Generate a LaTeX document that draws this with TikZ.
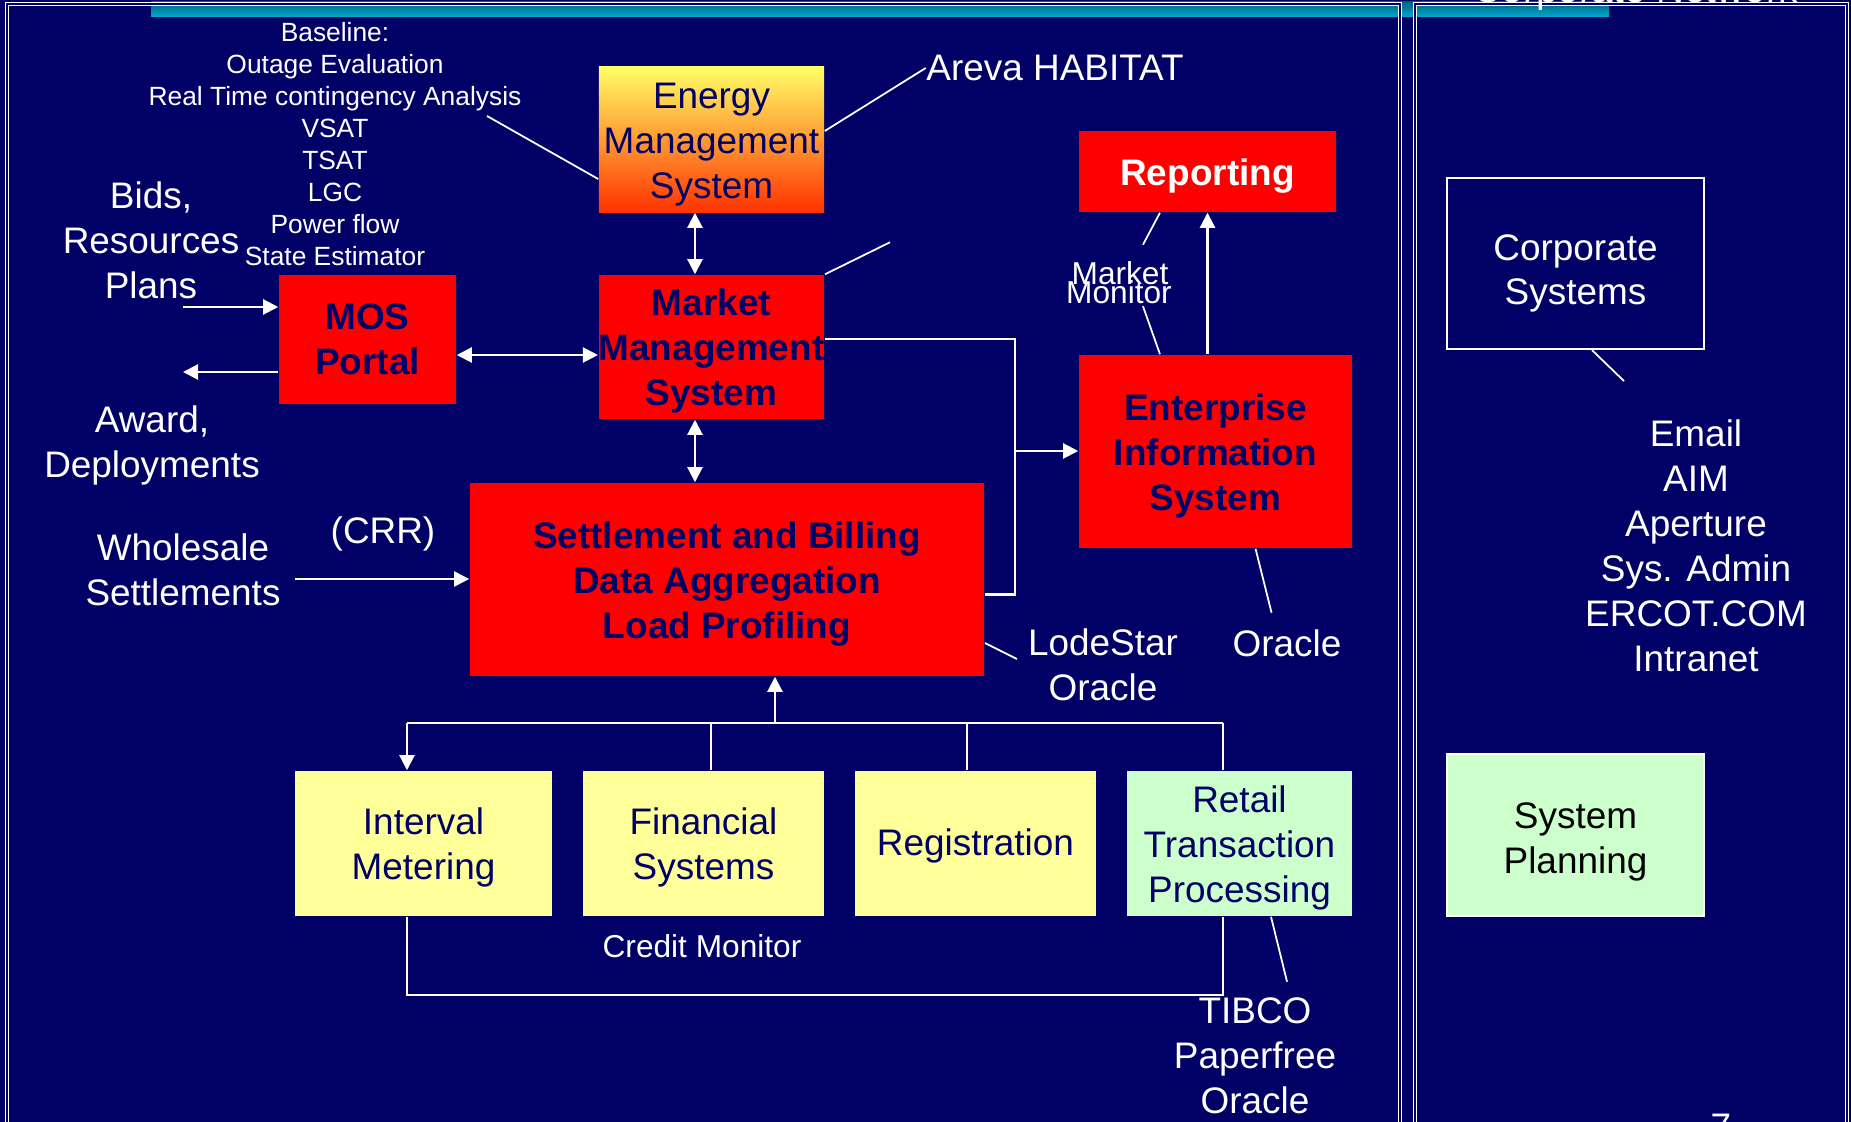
\documentclass[tikz,border=0pt]{standalone}
\usepackage{fontspec}
\setmainfont{Liberation Sans}
\usetikzlibrary{arrows.meta}
\definecolor{bgnavy}{RGB}{0,0,102}
\definecolor{boxred}{RGB}{255,0,0}
\definecolor{paleyel}{RGB}{255,255,153}
\definecolor{palegrn}{RGB}{204,255,204}
\definecolor{emstop}{RGB}{255,255,102}
\definecolor{emsbot}{RGB}{255,51,0}
\definecolor{bartop}{RGB}{0,100,120}
\definecolor{barbot}{RGB}{0,170,210}
\newcommand{\bigtxt}{\fontsize{10.5}{12.8}\selectfont}
\newcommand{\smalltxt}{\fontsize{7.5}{9.1}\selectfont}
\newcommand{\midtxt}{\fontsize{9}{11}\selectfont}
\newcommand{\boxstrut}{\rule{0pt}{10pt}}
\begin{document}
\begin{tikzpicture}[x=0.01cm,y=-0.01cm,>={Triangle[length=4.3pt,width=4.3pt]},
  every node/.style={inner sep=0pt,align=center,font=\bigtxt},
  redbox/.style={fill=boxred,text=bgnavy,font=\bigtxt\bfseries},
  yelbox/.style={fill=paleyel,text=bgnavy},
  lbl/.style={text=white},
  wire/.style={draw=white,line width=0.6pt},
  pointer/.style={draw=white,line width=0.5pt},
  frame/.style={draw=white,line width=0.35pt,double=bgnavy,double distance=0.5pt}]
\fill[bgnavy] (0,0) rectangle (1851,1122);
\useasboundingbox (0,0) rectangle (1851,1122);
\shade[top color=bartop,bottom color=barbot] (151,2) rectangle (1609,17);
\draw[frame] (7,4) rectangle (1400,1140);
\draw[frame] (1415,4) rectangle (1847,1140);
\node[lbl,anchor=base,font=\fontsize{11}{13}\selectfont] (corpnet) at (1636,3) {Corporate Network};
\node[lbl,anchor=base] (pagenum) at (1721,1139) {7};

% systems
\node[top color=emstop,bottom color=emsbot,text=bgnavy,minimum width=2.25cm,minimum height=1.45cm] (ems) at (711.5,139.5) {\boxstrut Energy\\Management\\System};
\node[redbox,minimum width=2.25cm,minimum height=1.44cm] (mms) at (711.5,347) {\boxstrut Market\\Management\\System};
\node[redbox,minimum width=1.77cm,minimum height=1.29cm] (mos) at (367.5,339.5) {MOS\\Portal};
\node[redbox,minimum width=5.14cm,minimum height=1.93cm] (sab) at (727,579.5) {\boxstrut Settlement and Billing\\Data Aggregation\\Load Profiling};
\node[redbox,text=white,minimum width=2.57cm,minimum height=0.81cm] (rep) at (1207.5,171.5) {\boxstrut Reporting};
\node[redbox,minimum width=2.73cm,minimum height=1.93cm] (eis) at (1215.5,451.5) {\boxstrut Enterprise\\Information\\System};
\node[yelbox,minimum width=2.57cm,minimum height=1.45cm] (im) at (423.5,843.5) {\boxstrut Interval\\Metering};
\node[yelbox,minimum width=2.41cm,minimum height=1.45cm] (fs) at (703.5,843.5) {\boxstrut Financial\\Systems};
\node[yelbox,minimum width=2.41cm,minimum height=1.45cm] (reg) at (975.5,843.5) {\rule{0pt}{9pt}Registration};
\node[yelbox,fill=palegrn,minimum width=2.25cm,minimum height=1.45cm] (rtp) at (1239.5,843.5) {\boxstrut Retail\\Transaction\\Processing};
\node[draw=white,line width=0.6pt,text=white,minimum width=2.57cm,minimum height=1.71cm,font=\fontsize{10.5}{12.6}\selectfont] (corp) at (1575.5,263.5) {\rule{0pt}{13pt}Corporate\\Systems};
\node[draw=white,line width=0.4pt,fill=palegrn,text=black,minimum width=2.57cm,minimum height=1.62cm] (plan) at (1575.5,835) {\rule{0pt}{11pt}System\\Planning};

% labels
\node[lbl,font=\smalltxt] (base) at (335,144) {Baseline:\\Outage Evaluation\\Real Time contingency Analysis\\VSAT\\TSAT\\LGC\\Power flow\\State Estimator};
\node[lbl] (bids) at (151,240) {Bids,\\Resources\\Plans};
\node[lbl] (award) at (152,445) {Award,\\Deployments};
\node[lbl] (whole) at (183,570) {Wholesale\\Settlements};
\node[lbl] (crr) at (383,534) {(CRR)};
\node[lbl] (areva) at (1055,68) {Areva HABITAT};
\node[lbl,font=\midtxt,anchor=base] (mkt) at (1120,285) {Market};
\node[lbl,font=\midtxt,anchor=base] (mon) at (1119,304) {Monitor};
\node[lbl] (lode) at (1103,665) {LodeStar\\Oracle};
\node[lbl] (eisora) at (1287,643) {Oracle};
\node[lbl,font=\midtxt] (credit) at (702,946) {Credit Monitor};
\node[lbl] (tibco) at (1255,1056) {TIBCO\\Paperfree\\Oracle};
\node[lbl] (email) at (1696,546) {Email\\AIM\\Aperture\\Sys. Admin\\ERCOT.COM\\Intranet};

% connectors
\coordinate (colA) at ([xshift=-0.165cm]mms.south);
\coordinate (rowA) at ([yshift=-0.155cm]mos.east);
\coordinate (bidsend) at (183,307);
\coordinate (awardend) at (183,372);
\coordinate (wsend) at (295,579);
\coordinate (trunk) at (1015,451);
\coordinate (busL) at (407,723);
\coordinate (busR) at (1223,723);
\coordinate (busup) at (775,723);
\coordinate (loopB) at (0,995);
\coordinate (blfoot) at (487,116);
\draw[wire,<->] ([xshift=-0.165cm]ems.south) -- ([xshift=-0.165cm]mms.north);
\draw[wire,<->] (colA) -- (colA |- sab.north);
\draw[wire,<->] (rowA) -- (rowA -| mms.west);
\draw[wire,->] (bidsend) -- (bidsend -| mos.west);
\draw[wire,->] (awardend -| mos.west) -- (awardend);
\draw[wire,->] (wsend) -- (wsend -| sab.west);
\draw[wire] ([yshift=0.08cm]mms.east) -| (trunk) |- ([yshift=-0.15cm]sab.east);
\draw[wire,->] (trunk) -- (trunk -| eis.west);
\draw[wire,->] (rep.south |- eis.north) -- (rep.south);
\draw[wire] (busL) -- (busR);
\draw[wire,->] (busup) -- (busup |- sab.south);
\draw[wire,->] (busL) -- (busL |- im.north);
\foreach \bx/\bn in {711/fs,967/reg,1223/rtp}
  \draw[wire] (\bx,723) -- (\bx,0 |- \bn.north);
\draw[wire] (busL |- im.south) -- (busL |- loopB) -| (busR |- rtp.south);

% pointers
\draw[pointer] ([yshift=0.085cm]ems.east) -- (areva.west);
\draw[pointer] (blfoot) -- ([yshift=-0.395cm]ems.west);
\draw[pointer] (mms.north east) -- ++(65,-32);
\draw[pointer] ([xshift=-0.475cm]rep.south) -- ++(-17,32);
\draw[pointer] ([xshift=-0.555cm]eis.north) -- ++(-17,-48);
\draw[pointer] ([yshift=-0.635cm]sab.east) -- ++(32,16);
\draw[pointer] ([xshift=0.4cm]eis.south) -- ++(16,64);
\draw[pointer] ([xshift=0.315cm]rtp.south) -- ++(16,65);
\draw[pointer] ([xshift=0.165cm]corp.south) -- ++(32,31);

\end{tikzpicture}
\end{document}
